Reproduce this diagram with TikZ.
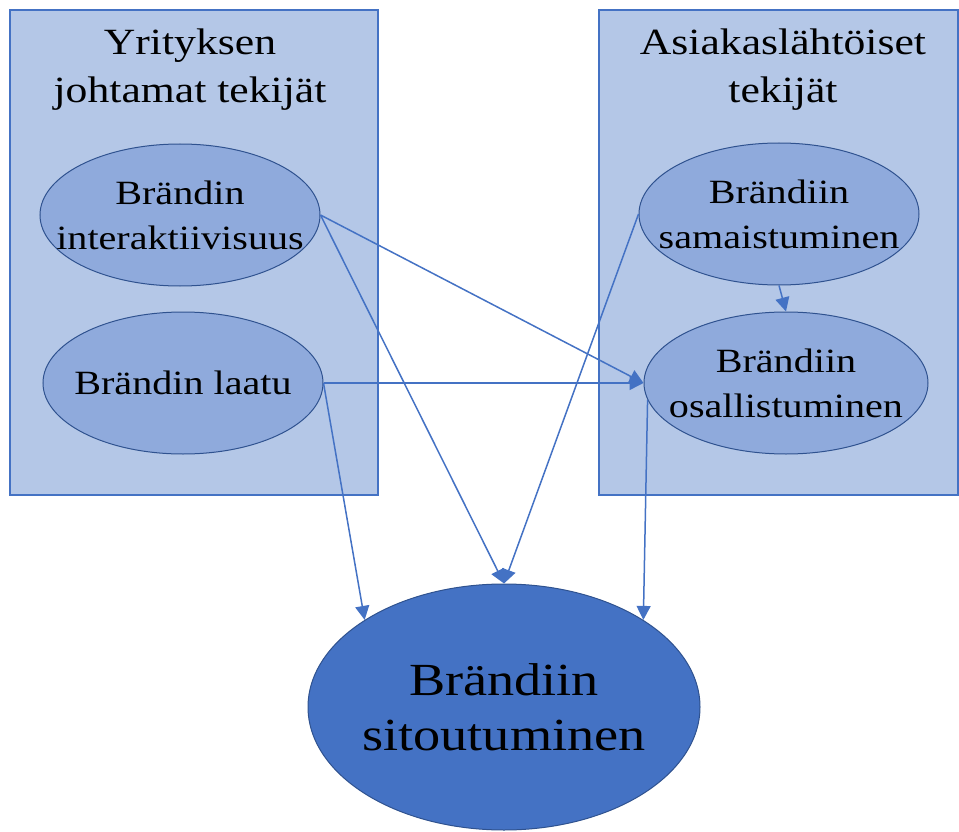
\documentclass[tikz,border=0pt]{standalone}
\usepackage{fontspec}
\setmainfont{Liberation Serif}[FakeStretch=1.18]
\usetikzlibrary{shapes.geometric,arrows.meta}
\definecolor{boxfill}{HTML}{B4C7E7}
\definecolor{boxline}{HTML}{4472C4}
\definecolor{ellfill}{HTML}{8FAADC}
\definecolor{ellline}{HTML}{2F528F}
\definecolor{bigfill}{HTML}{4472C4}
\definecolor{arrcol}{HTML}{4472C4}
\begin{document}
\begin{tikzpicture}[x=1pt,y=-1pt,
  groupbox/.style={draw=boxline, fill=boxfill, line width=1.5pt, inner sep=0pt},
  title/.style={align=center, font=\fontsize{37}{48}\selectfont, text=black},
  factor/.style={ellipse, draw=ellline, fill=ellfill, line width=1pt, inner sep=0pt,
     minimum width=280pt, minimum height=142pt},
  ftext/.style={align=center, font=\fontsize{34}{45}\selectfont, text=black},
  bigell/.style={ellipse, draw=ellline, fill=bigfill, line width=1pt, inner sep=0pt,
     minimum width=392pt, minimum height=246pt},
  btext/.style={align=center, font=\fontsize{46}{55}\selectfont, text=black},
  conn/.style={draw=arrcol, line width=1.5pt, -{Triangle[length=14pt,width=14pt]}}
]
\useasboundingbox (0,0) rectangle (959,832);
\node[groupbox, minimum width=368pt, minimum height=485pt] (L) at (194,252.5) {};
\node[groupbox, minimum width=359pt, minimum height=485pt] (R) at (778.5,252.5) {};
\node[title] (Lt) at (190,70) {Yrityksen\\johtamat tekijät};
\node[title] (Rt) at (783,70) {Asiakaslähtöiset\\tekijät};
\node[factor, label={[ftext]center:Brändin\\interaktiivisuus}] (i) at (180,215) {};
\node[factor, label={[ftext]center:Brändin laatu}] (l) at (183,383) {};
\node[factor, label={[ftext]center:Brändiin\\samaistuminen}] (s) at (779,214) {};
\node[factor, minimum width=284pt, label={[ftext]center:Brändiin\\osallistuminen}] (o) at (786,383) {};
\node[bigell, label={[btext]center:Brändiin\\sitoutuminen}] (b) at (504,707) {};
\draw[conn] (i.east) -- (o.west);
\draw[conn] (i.east) -- (b.north);
\draw[conn] (l.east) -- (o.west);
\draw[conn] (l.east) -- (b.148);
\draw[conn] (s.west) -- (b.north);
\draw[conn] (s.south) -- (o.north);
\draw[conn] (o.187) -- (b.32);
\end{tikzpicture}
\end{document}
